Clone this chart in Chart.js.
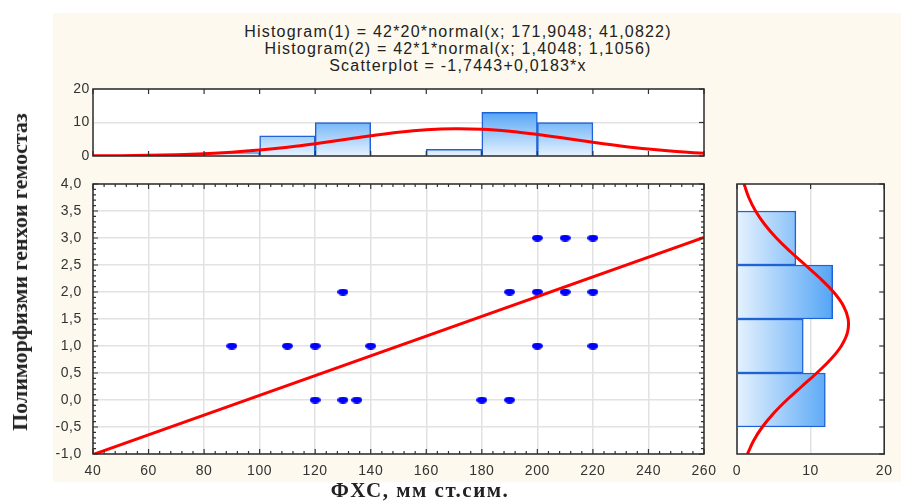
<!DOCTYPE html>
<html>
<head>
<meta charset="utf-8">
<script src="https://cdn.jsdelivr.net/npm/chart.js@4"></script>
<style>
  body { margin: 0; background: #fff; }
  #wrap { position: relative; width: 901px; height: 504px; overflow: hidden; font-family: 'Liberation Sans', Arial, sans-serif; }
  #panel { position: absolute; left: 53px; top: 13px; width: 848px; height: 469px; background: #fdf9ee; }
  canvas { position: absolute; left: 0; top: 0; }
  .head { position: absolute; left: 208px; width: 500px; text-align: center; font-size: 16px; letter-spacing: 1.2px; color: #222; top: 23px; line-height: 17px; white-space: nowrap; }
  #ylab { position: absolute; left: 20px; top: 272px; transform: translate(-50%, -50%) rotate(-90deg); white-space: nowrap; font: bold 22px 'Liberation Serif', 'Times New Roman', serif; color: #222; }
  #xlab { position: absolute; left: 420px; top: 490px; transform: translate(-50%, -50%); white-space: nowrap; font: bold 21px 'Liberation Serif', 'Times New Roman', serif; letter-spacing: 1.5px; color: #222; }
</style>
</head>
<body>
<div id="wrap">
  <div id="panel"></div>
  <div class="head" id="head"></div>
  <canvas id="top" width="901" height="504"></canvas>
  <canvas id="main" width="901" height="504"></canvas>
  <canvas id="side" width="901" height="504"></canvas>
  <div id="ylab">Полиморфизми генхои гемостаз</div>
  <div id="xlab">ФХС, мм ст.сим.</div>
</div>
<script>
// header lines
const titleLines = [
  'Histogram(1) = 42*20*normal(x; 171,9048; 41,0822)',
  'Histogram(2) = 42*1*normal(x; 1,4048; 1,1056)',
  'Scatterplot = -1,7443+0,0183*x'
];

// scatter data
const scatterX = [90, 110, 120, 140, 130, 120, 130, 135, 180, 190, 190, 200, 210, 220, 200, 210, 220, 200, 220];
const scatterY = [1, 1, 1, 1, 2, 0, 0, 0, 0, 0, 2, 2, 2, 2, 3, 3, 3, 1, 1];

// fitted line, ends
const fitX = [40, 260];
const fitY = [-1.01, 3.01];

// top histogram (x variable), bins of 20
const histXCenters = [90, 110, 130, 150, 170, 190, 210];
const histXCounts = [1, 6, 10, 0, 2, 13, 10];
const curveXPos = [40, 50, 60, 70, 80, 90, 100, 110, 120, 130, 140, 150, 160, 170, 180, 190, 200, 210, 220, 230, 240, 250, 260];
const curveXVals = [0.05, 0.1, 0.2, 0.38, 0.67, 1.12, 1.76, 2.62, 3.67, 4.85, 6.03, 7.08, 7.82, 8.15, 8.0, 7.4, 6.45, 5.31, 4.11, 3.0, 2.06, 1.34, 0.82];

// side histogram (y variable), bins of 1
const histYCenters = [0, 1, 2, 3];
const histYCounts = [12, 9, 13, 8];
const curveYPos = [-1, -0.75, -0.5, -0.25, 0, 0.25, 0.5, 0.75, 1, 1.25, 1.5, 1.75, 2, 2.25, 2.5, 2.75, 3, 3.25, 3.5, 3.75, 4];
const curveYVals = [1.42, 2.27, 3.44, 4.95, 6.76, 8.79, 10.84, 12.71, 14.17, 15.01, 15.1, 14.43, 13.11, 11.32, 9.28, 7.23, 5.35, 3.77, 2.52, 1.6, 0.96];

document.getElementById('head').innerHTML = titleLines.join('<br>');

const tickFont = { family: "'Liberation Sans', Arial, sans-serif", size: 14 };
const tickColor = '#333';
const gridColor = '#e2e2e2';
const barBorder = '#1f62d6';
const red = '#ff0000';

// white plot area, box, inward ticks
const frame = {
  id: 'frame',
  beforeDraw(chart) {
    const a = chart.chartArea, c = chart.ctx;
    c.letterSpacing = '0.6px';
    c.save();
    c.fillStyle = '#fff';
    c.fillRect(a.left, a.top, a.right - a.left, a.bottom - a.top);
    c.restore();
  },
  afterDraw(chart, args, o) {
    const a = chart.chartArea, c = chart.ctx;
    c.save();
    c.strokeStyle = '#333';
    c.lineWidth = 1.2;
    (o.marks || []).forEach(m => {
      const s = chart.scales[m.axis];
      const n = Math.round((s.max - s.min) / m.step);
      for (let i = 0; i <= n; i++) {
        const v = s.min + i * m.step;
        const major = m.major ? Math.abs(((v - s.min) / m.major) - Math.round((v - s.min) / m.major)) < 1e-6 : true;
        const len = major ? 5 : 3;
        const p = s.getPixelForValue(v);
        c.beginPath();
        m.edges.forEach(e => {
          if (e === 'top') { c.moveTo(p, a.top); c.lineTo(p, a.top + len); }
          if (e === 'bottom') { c.moveTo(p, a.bottom); c.lineTo(p, a.bottom - len); }
          if (e === 'left') { c.moveTo(a.left, p); c.lineTo(a.left + len, p); }
          if (e === 'right') { c.moveTo(a.right, p); c.lineTo(a.right - len, p); }
        });
        c.stroke();
      }
    });
    c.strokeStyle = '#2b2b2b';
    c.lineWidth = 1.5;
    c.strokeRect(a.left, a.top, a.right - a.left, a.bottom - a.top);
    c.restore();
  }
};

// ellipse marker
const dot = document.createElement('canvas');
dot.width = 11; dot.height = 7;
const dc = dot.getContext('2d');
dc.fillStyle = '#0000ff';
dc.beginPath();
dc.ellipse(5.5, 3.5, 5.5, 3.5, 0, 0, Math.PI * 2);
dc.fill();

const comma = v => v.toFixed(1).replace('.', ',');

// main scatter
new Chart(document.getElementById('main'), {
  type: 'scatter',
  data: {
    datasets: [
      {
        type: 'line',
        data: fitX.map((x, i) => ({ x: x, y: fitY[i] })),
        borderColor: red,
        borderWidth: 3,
        pointRadius: 0,
        order: 0
      },
      {
        data: scatterX.map((x, i) => ({ x: x, y: scatterY[i] })),
        pointStyle: dot,
        order: 1
      }
    ]
  },
  options: {
    responsive: false,
    animation: false,
    events: [],
    layout: { padding: { left: 53, top: 184, right: 197, bottom: 20 } },
    plugins: {
      legend: { display: false },
      tooltip: { enabled: false },
      frame: { marks: [
        { axis: 'x', step: 4, major: 20, edges: ['top', 'bottom'] },
        { axis: 'y', step: 0.1, major: 0.5, edges: ['left', 'right'] }
      ] }
    },
    scales: {
      x: {
        type: 'linear', min: 40, max: 260,
        afterFit: s => { s.height = 30; },
        ticks: { stepSize: 20, font: tickFont, color: tickColor, padding: 9, maxRotation: 0 },
        grid: { color: gridColor, lineWidth: 1.5, drawTicks: false },
        border: { display: false }
      },
      y: {
        min: -1, max: 4,
        afterFit: s => { s.width = 40; },
        ticks: { stepSize: 0.5, font: tickFont, color: tickColor, padding: 11, callback: comma },
        grid: { color: gridColor, lineWidth: 1.5, drawTicks: false },
        border: { display: false }
      }
    }
  },
  plugins: [frame]
});

// top histogram
new Chart(document.getElementById('top'), {
  type: 'bar',
  data: {
    datasets: [
      {
        type: 'line',
        data: curveXPos.map((x, i) => ({ x: x, y: curveXVals[i] })),
        borderColor: red,
        borderWidth: 3,
        pointRadius: 0,
        tension: 0.4,
        order: 0
      },
      {
        data: histXCenters.map((x, i) => ({ x: x, y: histXCounts[i] })),
        barPercentage: 1,
        categoryPercentage: 1,
        borderColor: barBorder,
        borderWidth: 1.5,
        backgroundColor: ctx => {
          const ch = ctx.chart, a = ch.chartArea;
          if (!a) return '#9ccaf7';
          const g = ch.ctx.createLinearGradient(0, a.bottom, 0, ch.scales.y.getPixelForValue(13));
          g.addColorStop(0, '#e6f2fe');
          g.addColorStop(1, '#56a6f6');
          return g;
        },
        order: 1
      }
    ]
  },
  options: {
    responsive: false,
    animation: false,
    events: [],
    layout: { padding: { left: 53, top: 89, right: 197, bottom: 338 } },
    plugins: {
      legend: { display: false },
      tooltip: { enabled: false },
      frame: { marks: [
        { axis: 'x', step: 20, edges: ['top', 'bottom'] },
        { axis: 'y', step: 10, edges: ['right'] }
      ] }
    },
    scales: {
      x: {
        type: 'linear', min: 40, max: 260, offset: false,
        afterFit: s => { s.height = 10; },
        ticks: { display: false, stepSize: 20 },
        grid: { display: false, offset: false },
        border: { display: false }
      },
      y: {
        min: 0, max: 20,
        afterFit: s => { s.width = 40; },
        ticks: { stepSize: 10, font: tickFont, color: tickColor, padding: 3 },
        grid: { color: gridColor, lineWidth: 1.5, drawTicks: false },
        border: { display: false }
      }
    }
  },
  plugins: [frame]
});

// side histogram, bars run sideways
new Chart(document.getElementById('side'), {
  type: 'bar',
  data: {
    datasets: [
      {
        type: 'line',
        data: curveYPos.map((y, i) => ({ x: curveYVals[i], y: y })),
        borderColor: red,
        borderWidth: 3,
        pointRadius: 0,
        tension: 0.4,
        order: 0
      },
      {
        data: histYCenters.map((y, i) => ({ x: histYCounts[i], y: y })),
        barPercentage: 1,
        categoryPercentage: 1,
        borderColor: barBorder,
        borderWidth: 1.5,
        backgroundColor: ctx => {
          const ch = ctx.chart, a = ch.chartArea;
          if (!a) return '#9ccaf7';
          const g = ch.ctx.createLinearGradient(a.left, 0, ch.scales.x.getPixelForValue(13), 0);
          g.addColorStop(0, '#e6f2fe');
          g.addColorStop(1, '#54a5f6');
          return g;
        },
        order: 1
      }
    ]
  },
  options: {
    indexAxis: 'y',
    responsive: false,
    animation: false,
    events: [],
    layout: { padding: { left: 727, top: 184, right: 12, bottom: 20 } },
    plugins: {
      legend: { display: false },
      tooltip: { enabled: false },
      frame: { marks: [
        { axis: 'x', step: 10, edges: ['top'] },
        { axis: 'y', step: 0.5, edges: ['right'] }
      ] }
    },
    scales: {
      x: {
        type: 'linear', min: 0, max: 20, offset: false,
        afterFit: s => { s.height = 30; },
        ticks: { stepSize: 10, font: tickFont, color: tickColor, padding: 9, maxRotation: 0 },
        grid: { color: gridColor, lineWidth: 1.5, drawTicks: false, offset: false },
        border: { display: false }
      },
      y: {
        type: 'linear', min: -1, max: 4, offset: false,
        afterFit: s => { s.width = 10; },
        ticks: { display: false, stepSize: 1 },
        grid: { display: false, offset: false },
        border: { display: false }
      }
    }
  },
  plugins: [frame]
});
</script>
</body>
</html>
